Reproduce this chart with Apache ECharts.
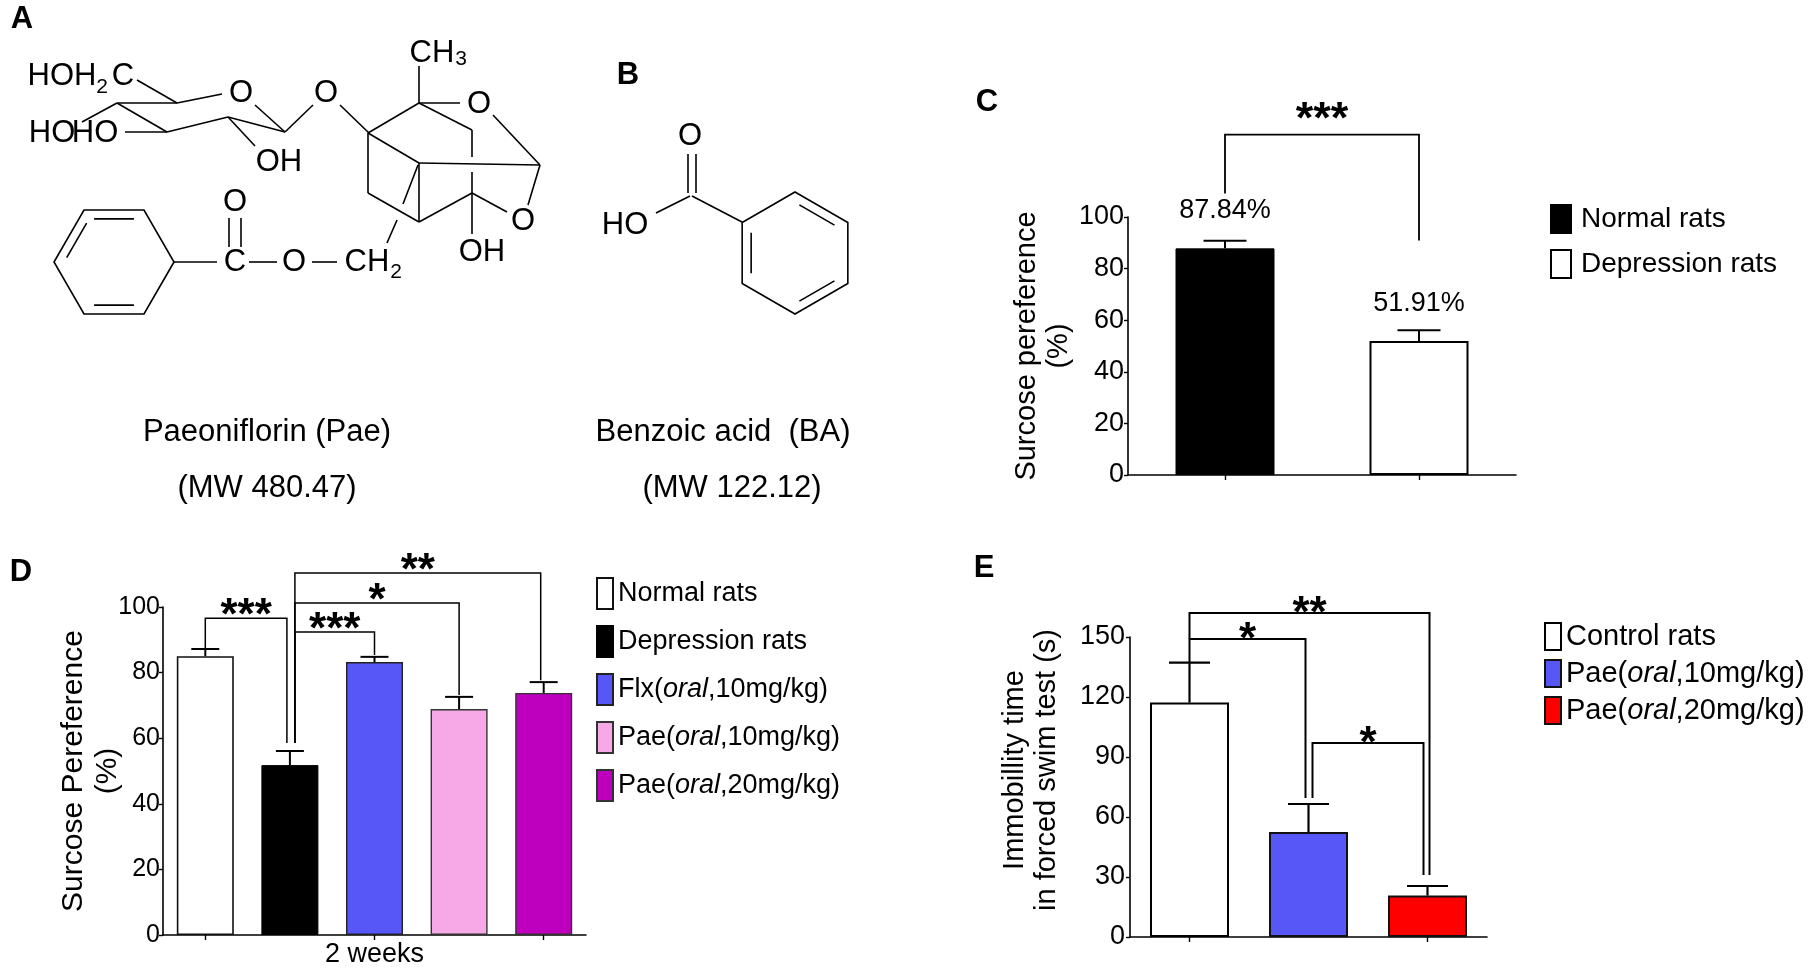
<!DOCTYPE html>
<html><head><meta charset="utf-8">
<script src="https://cdn.jsdelivr.net/npm/echarts@6/dist/echarts.min.js"></script>
<style>html,body{margin:0;padding:0;background:#fff}#c{width:1817px;height:972px}</style>
</head><body><div id="c"></div>
<script>
// ================= DATA =================
// Panel C
const cCategories = ['Normal rats', 'Depression rats'];
const cMeans = [87.84, 51.91];
const cSem = [3.0, 4.2];
const cValueLabels = ['87.84%', '51.91%'];
const cTicks = [0, 20, 40, 60, 80, 100];
const cBrackets = [[0, 1, 131.9, 109.1, 90.9]];   // [from, to, level, fromEnd, toEnd]
const cStars = ['***'];

// Panel D
const dCategories = ['Normal rats', 'Depression rats', 'Flx(oral,10mg/kg)', 'Pae(oral,10mg/kg)', 'Pae(oral,20mg/kg)'];
const dMeans = [85.0, 51.8, 83.2, 68.9, 73.8];
const dSem = [2.2, 4.3, 1.6, 3.7, 3.3];
const dTicks = [0, 20, 40, 60, 80, 100];
const dBrackets = [[0, 1, 96.6, 87.5, 58.5], [1, 2, 92.4, 58.5, 85.4], [1, 3, 101.2, 58.5, 73.2], [1, 4, 110.4, 58.5, 77.7]];
const dStars = ['***', '***', '*', '**'];
const dXName = '2 weeks';

// Panel E
const eCategories = ['Control rats', 'Pae(oral,10mg/kg)', 'Pae(oral,20mg/kg)'];
const eMeans = [117.2, 52.5, 20.7];
const eSem = [20.0, 14.0, 4.8];
const eTicks = [0, 30, 60, 90, 120, 150];
const eBrackets = [[0, 1, 149, 137.5, 69.5], [0, 2, 162, 149, 31], [1, 2, 97, 69.5, 31]];
const eStars = ['*', '**', '*'];

// ================= STYLE =================
const FONT = '"Liberation Sans", Arial, Helvetica, sans-serif';
const NARROW = '"Liberation Sans Narrow", "Arial Narrow", "Liberation Sans", sans-serif';
const BLUE = '#5757F7', PINK = '#F6A9E6', PURPLE = '#BE00BE', RED = '#FF0000';
const cStyles = [
  {color: '#000', borderColor: '#000', borderWidth: 1},
  {color: '#fff', borderColor: '#000', borderWidth: 2}
];
const dStyles = [
  {color: '#fff', borderColor: '#111', borderWidth: 1.6},
  {color: '#000', borderColor: '#000', borderWidth: 1},
  {color: BLUE, borderColor: '#222', borderWidth: 1.4},
  {color: PINK, borderColor: '#333', borderWidth: 1.4},
  {color: PURPLE, borderColor: '#333', borderWidth: 1.4}
];
const eStyles = [
  {color: '#fff', borderColor: '#000', borderWidth: 2},
  {color: BLUE, borderColor: '#111', borderWidth: 2},
  {color: RED, borderColor: '#111', borderWidth: 2}
];
const dLegOffsets = [[0, -3], [5, 0], [5, 0], [5, -3]];
const eLegOffsets = [[0, -3], [0, 2], [4, -4]];
const cLegOffsets = [[0, 0]];

// ================= BUILDERS =================
function xAx(gi, cats, extra) {
  return Object.assign({
    type: 'category', gridIndex: gi, data: cats, boundaryGap: true,
    axisLine: {show: true, onZero: false, lineStyle: {color: '#000', width: 1.6}},
    axisTick: {show: true, alignWithLabel: true, length: 5, lineStyle: {color: '#000', width: 1.4}},
    axisLabel: {show: false}, splitLine: {show: false}
  }, extra || {});
}
function yAx(gi, ticks, name, gap, fs, lh, labelFam, labelSize, margin, pad, noMove) {
  const ax = {
    type: 'value', gridIndex: gi, min: ticks[0], max: ticks[ticks.length - 1], interval: ticks[1] - ticks[0],
    name: name, nameLocation: 'middle', nameRotate: 90, nameGap: gap,
    nameTextStyle: {fontFamily: FONT, fontSize: fs, lineHeight: lh, color: '#000', padding: pad || 0},
    axisLine: {show: true, lineStyle: {color: '#000', width: 1.6}},
    axisTick: {show: true, length: 4, lineStyle: {color: '#000', width: 1.4}},
    axisLabel: {fontFamily: labelFam, fontSize: labelSize, color: '#000', margin: margin},
    splitLine: {show: false}
  };
  if (noMove) ax.nameMoveOverlap = false;
  return ax;
}
function bars(prefix, cats, means, gi, width, styles, labels) {
  return cats.map((c, i) => ({
    type: 'bar', name: prefix + c, xAxisIndex: gi, yAxisIndex: gi,
    barWidth: width, barGap: '-100%', z: 2,
    data: means.map((m, j) => (j === i ? m : '-')),
    itemStyle: styles[i],
    label: labels ? {show: true, position: 'top', distance: 24, formatter: labels[i],
      fontFamily: FONT, fontSize: 27, color: '#000'} : {show: false}
  }));
}
function errs(means, sems, gi, cap, lw) {
  return {
    type: 'custom', xAxisIndex: gi, yAxisIndex: gi, z: 5, clip: false, silent: true,
    data: means.map((m, i) => [i, m, sems[i]]),
    renderItem: (p, api) => {
      const x = api.value(0), m = api.value(1), s = api.value(2);
      const a = api.coord([x, m]), b = api.coord([x, m + s]);
      return {type: 'group', children: [
        {type: 'line', shape: {x1: a[0], y1: a[1], x2: b[0], y2: b[1]}, style: {stroke: '#000', lineWidth: lw}},
        {type: 'line', shape: {x1: b[0] - cap / 2, y1: b[1], x2: b[0] + cap / 2, y2: b[1]}, style: {stroke: '#000', lineWidth: lw}}
      ]};
    }
  };
}
function brk(list, offs, stars, gi, lw, lift, fs) {
  return {
    type: 'custom', xAxisIndex: gi, yAxisIndex: gi, z: 6, clip: false, silent: true,
    data: list,
    renderItem: (p, api) => {
      const i = p.dataIndex;
      const f = api.value(0), t = api.value(1), lv = api.value(2), fe = api.value(3), te = api.value(4);
      const A = api.coord([f, lv]), B = api.coord([t, lv]), Ae = api.coord([f, fe]), Be = api.coord([t, te]);
      const xl = A[0] + offs[i][0], xr = B[0] + offs[i][1];
      return {type: 'group', children: [
        {type: 'polyline', shape: {points: [[xl, Ae[1]], [xl, A[1]], [xr, A[1]], [xr, Be[1]]]},
          style: {stroke: '#000', lineWidth: lw, fill: null}},
        {type: 'text', x: (xl + xr) / 2, y: A[1] - lift,
          style: {text: stars[i], font: 'bold ' + fs + 'px ' + FONT, fill: '#000',
            align: 'center', verticalAlign: 'middle', textAlign: 'center', textVerticalAlign: 'middle'}}
      ]};
    }
  };
}
function legend(prefix, cats, left, top, iw, ih, gap, fs, padL) {
  return {
    orient: 'vertical', left: left, top: top, itemWidth: iw, itemHeight: ih, itemGap: gap,
    icon: 'rect', selectedMode: false, data: cats.map(c => prefix + c),
    formatter: n => n.slice(prefix.length).replace('oral', '{i|oral}'),
    textStyle: {fontFamily: FONT, fontSize: fs, color: '#000', padding: [0, 0, 0, padL],
      rich: {i: {fontFamily: FONT, fontSize: fs, fontStyle: 'italic', color: '#000'}}}
  };
}

// ================= STRUCTURE DRAWINGS (A, B) =================
const ink = '#000';
const G = [];
function L(x1, y1, x2, y2) { G.push({type: 'line', silent: true, shape: {x1, y1, x2, y2}, style: {stroke: ink, lineWidth: 1.6}}); }
function T(text, x, y, size, bold) {
  G.push({type: 'text', silent: true, x: x, y: y, style: {text: text, fill: ink,
    font: (bold ? 'bold ' : '') + size + 'px ' + FONT,
    align: 'center', verticalAlign: 'middle', textAlign: 'center', textVerticalAlign: 'middle'}});
}
function hexagon(cx, cy, r, a0, doubles) {
  const pts = [];
  for (let k = 0; k < 6; k++) { const a = (a0 + 60 * k) * Math.PI / 180; pts.push([cx + r * Math.cos(a), cy + r * Math.sin(a)]); }
  G.push({type: 'polygon', silent: true, shape: {points: pts}, style: {fill: 'none', stroke: ink, lineWidth: 1.6}});
  doubles.forEach(k => {
    const p = pts[k], q = pts[(k + 1) % 6];
    const pi = [cx + (p[0] - cx) * 0.83, cy + (p[1] - cy) * 0.83], qi = [cx + (q[0] - cx) * 0.83, cy + (q[1] - cy) * 0.83];
    const s = 0.1;
    L(pi[0] + (qi[0] - pi[0]) * s, pi[1] + (qi[1] - pi[1]) * s, qi[0] - (qi[0] - pi[0]) * s, qi[1] - (qi[1] - pi[1]) * s);
  });
}
// A: sugar
[[137,80,177,103],[177,103,222,94],[255,105,285,132],[285,132,228,117],[228,117,167,132],[167,132,117,103],
 [117,103,177,103],[117,103,82,122],[125,132,167,132],[228,117,255,146],[285,132,313,105],[340,105,369,133],
 // aglycone
 [368,133,419,103],[419,103,419,66],[419,103,460,103],[419,103,472,130],[472,130,472,157],[472,172,472,234],
 [368,133,419,163],[419,163,540,165],[493,115,540,165],[540,165,528,205],[472,193,507,212],[419,163,419,222],
 [368,133,368,193],[368,193,419,222],[419,222,472,193],[418,165,403,204],[397,220,387,243],
 // benzoate
 [174,262,217,262],[229,218,229,247],[241,218,241,247],[249,262,277,262],[312,262,337,262],
 // B
 [688,154,688,193],[696,154,696,193],[656,213,690,196],[692,196,742,222]
].forEach(s => L(s[0], s[1], s[2], s[3]));
hexagon(114, 262, 60, 0, [1, 3, 4]);
hexagon(795, 253, 61, -90, [0, 2, 4]);
[['HOH',62,76,31],['2',102,87,21],['C',123,76,31],['HO',52,133,31],['HO',95,133,31],
 ['O',241,93,31],['OH',279,162,31],['O',326,93,31],['CH',432,53,31],['3',461,59,21],
 ['O',479,104,31],['O',523,221,31],['OH',482,252,31],['CH',367,262,31],['2',396,272,21],
 ['C',235,262,31],['O',235,202,31],['O',294,262,31],['O',690,136,31],['HO',625,225,31],
 ['Paeoniflorin (Pae)',267,432,31],['(MW 480.47)',267,488,31],['Benzoic acid  (BA)',723,432,31],['(MW 122.12)',732,488,31]
].forEach(t => T(t[0], t[1], t[2], t[3], false));
[['A',22,19],['B',628,75],['C',987,102],['D',21,572],['E',984,568]].forEach(t => T(t[0], t[1], t[2], 31, true));

// ================= CHART =================
const chart = echarts.init(document.getElementById('c'));
chart.setOption({
  animation: false,
  backgroundColor: '#fff',
  grid: [
    {left: 1128, top: 217, width: 388, height: 258},
    {left: 163, top: 607, width: 423, height: 328},
    {left: 1130, top: 637, width: 357, height: 300}
  ],
  xAxis: [
    xAx(0, cCategories),
    xAx(1, dCategories, {name: dXName, nameLocation: 'middle', nameGap: 6,
      nameTextStyle: {fontFamily: FONT, fontSize: 27, color: '#000'}}),
    xAx(2, eCategories)
  ],
  yAxis: [
    yAx(0, cTicks, 'Surcose pereference\n(%)', 46, 29, 32, FONT, 27, 4),
    yAx(1, dTicks, 'Surcose Pereference\n(%)', 38, 30, 34, NARROW, 25, 3, 0, true),
    yAx(2, eTicks, 'Immobillity time\nin forced swim test (s)', 67, 29, 32, FONT, 27, 5, [0, 0, 0, 34])
  ],
  legend: [
    legend('C|', cCategories, 1545, 199, 20, 28, 15, 28, 5),
    legend('D|', dCategories, 591, 572, 16, 31, 15, 27, 0),
    legend('E|', eCategories, 1539, 617, 16, 27, 8, 29, 0)
  ],
  graphic: {elements: G},
  series: [].concat(
    bars('C|', cCategories, cMeans, 0, 99, cStyles, cValueLabels),
    bars('D|', dCategories, dMeans, 1, 57, dStyles, null),
    bars('E|', eCategories, eMeans, 2, 79, eStyles, null),
    [errs(cMeans, cSem, 0, 43, 2), errs(dMeans, dSem, 1, 28, 2), errs(eMeans, eSem, 2, 41, 2.2),
     brk(cBrackets, cLegOffsets, cStars, 0, 1.8, 14, 45),
     brk(dBrackets, dLegOffsets, dStars, 1, 1.5, 1, 44),
     brk(eBrackets, eLegOffsets, eStars, 2, 2, -2, 44)]
  )
});
</script></body></html>
